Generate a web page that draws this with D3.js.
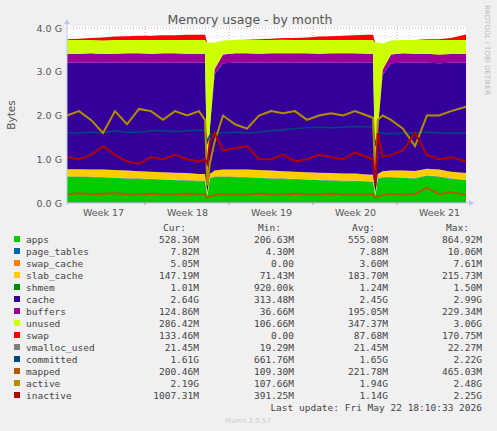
<!DOCTYPE html><html><head><meta charset="utf-8"><script src="https://cdn.jsdelivr.net/npm/d3@7"></script>
<style>body{margin:0;background:#F0F0F0}svg{display:block}</style></head><body><svg id="c" width="497" height="431"></svg><script>
const times=[0,1,2,3,4,5,6,7,8,9,10,11,11.5,11.7,11.9,12.3,13,14,15,16,17,18,19,20,21,22,23,24,25,25.5,25.7,25.9,26.3,27,28,29,30,31,32,33.25];
const apps=[0.6,0.6,0.59,0.58,0.57,0.56,0.55,0.54,0.53,0.52,0.51,0.5,0.5,0.15,0.55,0.6,0.6,0.59,0.58,0.57,0.56,0.55,0.54,0.53,0.52,0.51,0.5,0.5,0.49,0.48,0.15,0.55,0.58,0.58,0.57,0.56,0.62,0.6,0.55,0.52];
const pageTables=times.map(()=>0.008);
const swapCache=times.map(()=>0.005);
const slab=[0.16,0.16,0.16,0.17,0.17,0.17,0.16,0.16,0.16,0.16,0.16,0.15,0.15,0.08,0.1,0.13,0.15,0.16,0.17,0.17,0.17,0.16,0.16,0.16,0.16,0.16,0.16,0.16,0.15,0.15,0.08,0.1,0.13,0.15,0.16,0.16,0.15,0.15,0.15,0.15];
const shmem=times.map(()=>0.001);
const cache=[2.43,2.43,2.44,2.44,2.45,2.46,2.48,2.49,2.5,2.51,2.52,2.54,2.54,0.3,1.0,2.2,2.43,2.44,2.44,2.45,2.46,2.48,2.49,2.5,2.51,2.52,2.53,2.53,2.55,2.56,0.3,1.0,2.2,2.45,2.46,2.47,2.42,2.43,2.49,2.52];
const buffers=[0.2,0.21,0.22,0.2,0.21,0.22,0.22,0.21,0.22,0.22,0.21,0.21,0.2,0.03,0.05,0.12,0.2,0.22,0.22,0.21,0.22,0.22,0.22,0.22,0.21,0.22,0.22,0.22,0.21,0.2,0.03,0.05,0.12,0.2,0.22,0.21,0.21,0.2,0.2,0.2];
const unused=[0.32,0.31,0.3,0.31,0.31,0.3,0.3,0.31,0.3,0.3,0.31,0.31,0.32,3.07,1.96,0.6,0.32,0.3,0.3,0.31,0.3,0.31,0.3,0.3,0.31,0.3,0.3,0.3,0.31,0.32,3.07,1.96,0.6,0.32,0.3,0.31,0.31,0.33,0.32,0.32];
const swap=[0.02,0.03,0.05,0.07,0.08,0.09,0.1,0.1,0.11,0.11,0.12,0.12,0.12,0,0,0,0,0,0.01,0.02,0.03,0.04,0.05,0.06,0.08,0.09,0.1,0.11,0.12,0.12,0,0,0,0,0,0,0.02,0.02,0.05,0.13];
const vmalloc=times.map(()=>0.021);
const committed=[1.6,1.6,1.62,1.6,1.65,1.62,1.62,1.65,1.65,1.63,1.65,1.66,1.65,1.4,1.55,1.6,1.6,1.62,1.6,1.62,1.65,1.68,1.7,1.72,1.73,1.72,1.73,1.75,1.74,1.73,1.3,1.6,1.6,1.58,1.6,1.6,1.62,1.6,1.6,1.6];
const mapped=[0.2,0.22,0.2,0.21,0.22,0.2,0.2,0.21,0.2,0.2,0.21,0.2,0.2,0.12,0.15,0.18,0.2,0.2,0.2,0.21,0.2,0.2,0.21,0.2,0.2,0.21,0.2,0.2,0.2,0.2,0.12,0.15,0.18,0.2,0.2,0.2,0.35,0.2,0.25,0.18];
const active=[2.0,2.1,1.9,1.6,2.1,1.8,2.15,2.1,1.9,2.1,2.0,2.1,1.9,0.4,0.9,1.4,2.0,1.8,1.7,2.0,2.1,2.05,2.1,1.9,2.0,2.05,2.0,2.1,2.0,1.95,0.5,1.9,2.0,1.9,1.7,1.3,2.0,2.0,2.1,2.2];
const inactive=[1.05,1.0,1.1,1.3,1.1,0.95,0.9,1.05,1.0,1.1,1.0,0.95,1.0,0.9,1.4,1.6,1.2,1.25,1.3,1.0,1.0,1.1,0.95,1.0,1.1,1.05,1.0,1.15,1.05,1.0,0.4,1.6,1.05,1.1,1.2,1.6,1.1,1.0,1.05,0.95];
const weekLabels=["Week 17","Week 18","Week 19","Week 20","Week 21"];
const weekCenters=[3,10,17,24,31];
const yTicks=[0,1,2,3,4];
const names=["apps","page_tables","swap_cache","slab_cache","shmem","cache","buffers","unused","swap","vmalloc_used","committed","mapped","active","inactive"];
const colors=["#00CC00","#0066B3","#FF8000","#FFCC00","#008F00","#330099","#990099","#CCFF00","#FF0000","#808080","#00487D","#B35A00","#B38F00","#B30000"];
const cur=["528.36M","7.82M","5.05M","147.19M","1.01M","2.64G","124.86M","286.42M","133.46M","21.45M","1.61G","200.46M","2.19G","1007.31M"];
const mins=["206.63M","4.30M","0.00","71.43M","920.00k","313.48M","36.66M","106.66M","0.00","19.29M","661.76M","109.30M","107.66M","391.25M"];
const avgs=["555.08M","7.88M","3.60M","183.70M","1.24M","2.45G","195.05M","347.37M","87.68M","21.45M","1.65G","221.78M","1.94G","1.14G"];
const maxs=["864.92M","10.06M","7.61M","215.73M","1.50M","2.99G","229.34M","3.06G","170.75M","22.27M","2.22G","465.03M","2.48G","2.25G"];

const svg=d3.select("#c");
const L=67,R=466,T=26,B=203;
const x=d3.scaleLinear().domain([0,33.25]).range([L,R]);
const y=d3.scaleLinear().domain([0,4.0]).range([B,28]);
svg.append("rect").attr("x",L).attr("y",T).attr("width",R-L).attr("height",B-T).attr("fill","#fff");
// grid
for(let v=0.2;v<4.05;v+=0.2){const major=Math.abs(v-Math.round(v))<1e-6;
 svg.append("line").attr("x1",L).attr("x2",R).attr("y1",y(v)).attr("y2",y(v)).attr("stroke",major?"#e8a0a0":"#ddd").attr("stroke-dasharray","1,2");}
for(let d=0.5;d<33.25;d+=1){const major=[6.5,13.5,20.5,27.5].includes(d);
 svg.append("line").attr("x1",x(d)).attr("x2",x(d)).attr("y1",T).attr("y2",B).attr("stroke",major?"#e8a0a0":"#ddd").attr("stroke-dasharray","1,2");}
// stack
const stackSeries=[apps,pageTables,swapCache,slab,shmem,cache,buffers,unused,swap];
const rows=times.map((t,i)=>{const o={t};stackSeries.forEach((s,k)=>o[k]=s[i]);return o;});
const st=d3.stack().keys(d3.range(stackSeries.length))(rows);
const area=d3.area().x(d=>x(d.data.t)).y0(d=>y(d[0])).y1(d=>y(d[1]));
st.forEach((s,k)=>svg.append("path").attr("d",area(s)).attr("fill",colors[k]));
const line=d3.line().x((d,i)=>x(times[i])).y(d=>y(d));
[vmalloc,committed,mapped,active,inactive].forEach((s,k)=>svg.append("path").attr("d",line(s)).attr("fill","none").attr("stroke",colors[9+k]).attr("stroke-width",k==0?1:(k==1?1.5:2)));
// axes
const yA=svg.append("g").attr("transform",`translate(${L},0)`).call(d3.axisLeft(y).tickValues(yTicks).tickFormat(d=>d.toFixed(1)+" G").tickSize(0).tickPadding(5));
const xA=svg.append("g").attr("transform",`translate(0,${B})`).call(d3.axisBottom(x).tickValues(weekCenters).tickFormat((d,i)=>weekLabels[i]).tickSize(0).tickPadding(6));
[yA,xA].forEach(a=>{a.select(".domain").remove();a.selectAll("text").attr("fill","#555").style("font-family","DejaVu Sans").style("font-size","9.5px");});
svg.append("line").attr("x1",L).attr("x2",R+5).attr("y1",B).attr("y2",B).attr("stroke","#c0c8f0");
svg.append("line").attr("x1",L).attr("x2",L).attr("y1",B+2).attr("y2",T-4).attr("stroke","#c0c8f0");
svg.append("path").attr("d",`M${R+3},${B-3}L${R+8},${B}L${R+3},${B+3}Z`).attr("fill","#c0c8f0");
svg.append("path").attr("d",`M${L-3},${T-2}L${L},${T-7}L${L+3},${T-2}Z`).attr("fill","#c0c8f0");
[6.5,13.5,20.5,27.5].forEach(d=>svg.append("line").attr("x1",x(d)).attr("x2",x(d)).attr("y1",B).attr("y2",B+2).attr("stroke","#e08080"));
svg.append("text").attr("x",250).attr("y",24).attr("text-anchor","middle").attr("fill","#555").style("font-family","DejaVu Sans").style("font-size","12.5px").text("Memory usage - by month");
svg.append("text").attr("transform","translate(15,115) rotate(-90)").attr("text-anchor","middle").attr("fill","#555").style("font-family","DejaVu Sans").style("font-size","10.5px").text("Bytes");
svg.append("text").attr("transform","translate(485,5) rotate(90)").attr("fill","#bbb").style("font-family","DejaVu Sans").style("font-size","7px").text("RRDTOOL / TOBI OETIKER");
// legend
const mono="DejaVu Sans Mono",fs="9.5px";
const colX=[199,294,388,482],hdr=["Cur:","Min:","Avg:","Max:"];
hdr.forEach((h,j)=>svg.append("text").attr("x",colX[j]-13).attr("y",231).attr("text-anchor","end").attr("fill","#444").style("font-family",mono).style("font-size",fs).text(h));
names.forEach((n,i)=>{const yy=243+i*12;
 svg.append("rect").attr("x",14).attr("y",yy-7).attr("width",6).attr("height",6).attr("fill",colors[i]);
 svg.append("text").attr("x",26).attr("y",yy).attr("fill","#444").style("font-family",mono).style("font-size",fs).text(n);
 [cur,mins,avgs,maxs].forEach((a,j)=>svg.append("text").attr("x",colX[j]).attr("y",yy).attr("text-anchor","end").attr("fill","#444").style("font-family",mono).style("font-size",fs).text(a[i]));});
svg.append("text").attr("x",482).attr("y",411).attr("text-anchor","end").attr("fill","#444").style("font-family",mono).style("font-size",fs).text("Last update: Fri May 22 18:10:33 2026");
svg.append("text").attr("x",248).attr("y",423).attr("text-anchor","middle").attr("fill","#ccc").style("font-family","DejaVu Sans").style("font-size",7).text("Munin 2.0.57");
</script></body></html>
